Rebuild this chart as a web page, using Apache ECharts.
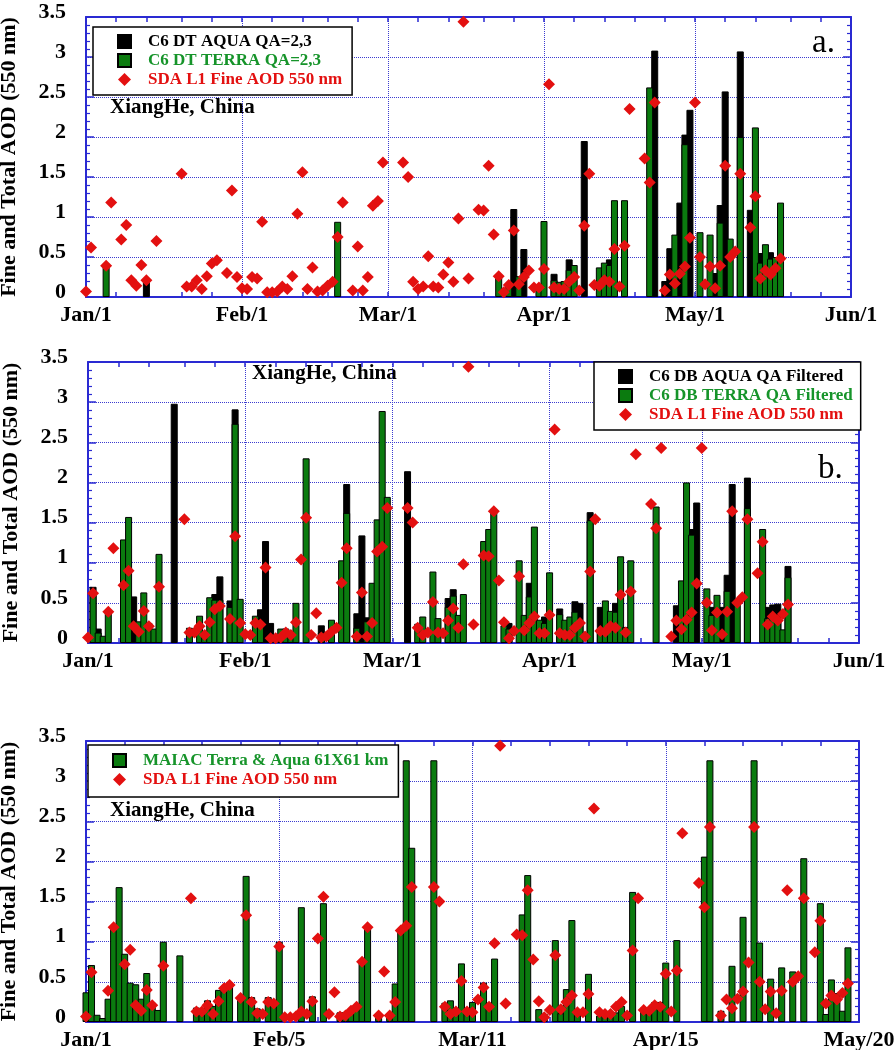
<!DOCTYPE html>
<html><head><meta charset="utf-8">
<script src="https://cdn.jsdelivr.net/npm/echarts@6/dist/echarts.min.js"></script>
<style>html,body{margin:0;padding:0;background:#fff}#chart{width:895px;height:1050px}</style>
</head><body><div id="chart"></div>
<script>
// ---------- tick labels ----------
const monthDaysAB = [0, 31, 60, 91, 121, 152];
const monthLabelsAB = ['Jan/1', 'Feb/1', 'Mar/1', 'Apr/1', 'May/1', 'Jun/1'];
const tickDaysC = [0, 35, 70, 105, 140];
const tickLabelsC = ['Jan/1', 'Feb/5', 'Mar/11', 'Apr/15', 'May/20'];

// ---------- data: [day of year (0 = Jan 1), AOD] ----------
const sdaFine = [[0,0.07],[1,0.62],[4,0.39],[5,1.18],[7,0.72],[8,0.90],[9,0.21],[10,0.14],[11,0.40],[12,0.21],[14,0.70],[19,1.54],[20,0.13],[21,0.13],[22,0.21],[23,0.10],[24,0.26],[25,0.42],[26,0.46],[28,0.30],[29,1.33],[30,0.25],[31,0.11],[32,0.10],[33,0.25],[34,0.23],[35,0.94],[36,0.06],[37,0.06],[38,0.07],[39,0.13],[40,0.10],[41,0.26],[42,1.04],[43,1.56],[44,0.10],[45,0.37],[46,0.07],[47,0.08],[48,0.14],[49,0.19],[50,0.75],[51,1.18],[53,0.08],[54,0.63],[55,0.08],[56,0.25],[57,1.14],[58,1.20],[59,1.68],[63,1.68],[64,1.50],[65,0.19],[66,0.10],[67,0.13],[68,0.51],[69,0.13],[70,0.12],[71,0.28],[72,0.43],[73,0.19],[74,0.98],[75,3.44],[76,0.23],[78,1.09],[79,1.08],[80,1.64],[81,0.78],[82,0.26],[83,0.06],[84,0.15],[85,0.83],[86,0.16],[87,0.25],[88,0.33],[89,0.12],[90,0.12],[91,0.35],[92,2.66],[93,0.12],[94,0.10],[95,0.10],[96,0.19],[97,0.25],[98,0.08],[99,0.89],[100,1.54],[101,0.15],[102,0.14],[103,0.21],[104,0.19],[105,0.60],[106,0.13],[107,0.64],[108,2.35],[111,1.73],[112,1.43],[113,2.43],[115,0.08],[116,0.28],[117,0.17],[118,0.29],[119,0.38],[120,0.74],[121,2.43],[122,0.50],[123,0.16],[124,0.38],[125,0.11],[126,0.39],[127,1.64],[128,0.50],[129,0.57],[130,1.54],[132,0.87],[133,1.26],[134,0.23],[135,0.33],[136,0.28],[137,0.36],[138,0.48]];

const dtAqua = [[12,0.20],[85,1.10],[87,0.60],[93,0.29],[96,0.47],[99,1.95],[104,0.47],[113,3.08],[115,0.20],[116,0.61],[118,1.18],[119,2.03],[120,2.34],[125,0.30],[126,1.15],[127,2.57],[130,3.07],[132,1.09],[134,0.55],[136,0.56]];
const dtTerra = [[4,0.42],[50,0.94],[82,0.26],[84,0.16],[86,0.26],[90,0.10],[91,0.95],[93,0.21],[94,0.19],[95,0.20],[96,0.34],[97,0.40],[102,0.37],[103,0.43],[104,0.40],[105,1.21],[107,1.21],[112,2.62],[117,0.78],[119,1.91],[122,0.81],[124,0.78],[126,0.93],[128,0.73],[130,2.00],[133,2.12],[134,0.43],[135,0.66],[136,0.48],[137,0.50],[138,1.18]];

const dbAqua = [[1,0.70],[2,0.18],[9,0.58],[17,2.98],[25,0.61],[26,0.83],[28,0.53],[29,2.91],[34,0.42],[35,1.27],[36,0.25],[46,0.22],[51,1.98],[53,0.37],[54,1.34],[55,0.32],[63,2.14],[71,0.56],[72,0.67],[83,0.25],[87,0.75],[90,0.33],[93,0.43],[96,0.52],[97,0.50],[99,1.63],[101,0.45],[104,0.50],[116,0.47],[119,1.42],[120,1.75],[123,0.45],[125,0.45],[126,0.85],[127,1.98],[130,2.06],[134,0.45],[135,0.48],[136,0.49],[138,0.96]];
const dbTerra = [[1,0.65],[2,0.13],[3,0.09],[4,0.39],[7,1.29],[8,1.57],[10,0.27],[11,0.63],[12,0.25],[13,0.18],[14,1.11],[20,0.19],[22,0.34],[23,0.14],[24,0.57],[25,0.54],[26,0.54],[28,0.45],[29,2.73],[30,0.55],[33,0.34],[34,0.27],[38,0.18],[39,0.18],[40,0.14],[41,0.50],[43,2.30],[46,0.13],[48,0.29],[50,1.03],[51,1.62],[53,0.19],[55,0.27],[56,0.75],[57,1.54],[58,2.89],[59,1.82],[65,0.24],[66,0.33],[68,0.89],[69,0.31],[71,0.45],[72,0.59],[73,0.35],[74,0.61],[78,1.27],[79,1.42],[80,1.67],[82,0.22],[83,0.18],[85,1.03],[86,0.35],[87,0.58],[88,1.45],[89,0.29],[90,0.25],[91,0.88],[93,0.36],[94,0.29],[95,0.33],[96,0.39],[97,0.27],[99,1.53],[101,0.16],[102,0.53],[103,0.40],[104,0.39],[105,1.08],[106,0.20],[107,1.03],[112,1.70],[117,0.78],[118,2.00],[119,1.35],[122,0.68],[123,0.35],[124,0.60],[126,0.65],[128,0.52],[130,1.68],[133,1.42],[134,0.31],[135,0.38],[136,0.27],[137,0.17],[138,0.82]];

const maiac = [[0,0.37],[1,0.71],[2,0.09],[3,0.05],[4,0.29],[5,1.17],[6,1.68],[7,0.85],[8,0.49],[9,0.47],[10,0.29],[11,0.61],[12,0.24],[13,0.15],[14,1.00],[17,0.83],[20,0.18],[21,0.17],[22,0.27],[23,0.20],[24,0.40],[25,0.45],[26,0.48],[28,0.29],[29,1.82],[30,0.31],[31,0.17],[33,0.31],[34,0.20],[35,1.00],[39,1.43],[41,0.32],[43,1.48],[46,0.12],[47,0.12],[48,0.15],[49,0.20],[50,0.74],[51,1.20],[53,0.10],[55,0.11],[56,0.48],[57,1.13],[58,3.26],[59,2.17],[63,3.26],[65,0.24],[66,0.27],[67,0.12],[68,0.73],[69,0.15],[70,0.25],[72,0.49],[73,0.24],[74,0.79],[79,1.34],[80,1.83],[82,0.16],[83,0.10],[85,1.02],[86,0.11],[87,0.41],[88,1.27],[89,0.13],[91,0.60],[93,0.08],[94,0.10],[95,0.10],[96,0.12],[97,0.20],[99,1.62],[101,0.18],[102,0.14],[103,0.25],[104,0.25],[105,0.74],[107,1.02],[112,2.06],[113,3.26],[115,0.14],[117,0.70],[119,1.31],[121,3.26],[122,0.99],[124,0.54],[126,0.68],[128,0.63],[130,2.04],[133,1.48],[134,0.10],[135,0.53],[136,0.36],[137,0.14],[138,0.93]];

// ---------- styling ----------
const FONT = '"Liberation Serif", "Times New Roman", serif';
const AXIS_BLUE = '#2a2ad2';
const GRID_BLUE = '#3c3cd0';
const BAR_GREEN = '#0b7b0f';
const TEXT_GREEN = '#16942a';
const RED = '#e31010';
const SDA = 'SDA L1 Fine AOD 550 nm';

function full(n, pairs) {
  const a = new Array(n + 1).fill('-');
  pairs.forEach(([d, v]) => { a[d] = v; });
  return a;
}
function minorTicksMonths(days) {
  const out = [];
  for (let i = 0; i < days.length - 1; i++) {
    const L = days[i + 1] - days[i];
    for (let k = 0; k < 5; k++) out.push(days[i] + Math.round(k * L / 5));
  }
  out.push(days[days.length - 1]);
  return out;
}
function xAxes(g, n, labelDays, labelTexts, minorDays) {
  const cats = Array.from({ length: n + 1 }, (_, i) => String(i));
  const labelSet = new Set(labelDays);
  const tickSet = new Set(minorDays);
  const labelMap = {};
  labelDays.forEach((d, i) => { labelMap[d] = labelTexts[i]; });
  const base = {
    type: 'category', gridIndex: g, data: cats, boundaryGap: false,
    axisLine: { show: true, onZero: false, lineStyle: { color: AXIS_BLUE, width: 2 } },
    axisTick: { show: true, inside: true, length: 5, interval: (i) => tickSet.has(i), lineStyle: { color: AXIS_BLUE, width: 1.5 } }
  };
  return [
    Object.assign({}, base, {
      position: 'bottom',
      axisLabel: { show: true, interval: (i) => labelSet.has(i), formatter: (v) => labelMap[+v] || '',
        color: '#000', fontFamily: FONT, fontWeight: 'bold', fontSize: 22, margin: 7 },
      splitLine: { show: true, interval: (i) => labelSet.has(i) && i > 0 && i < n,
        lineStyle: { color: GRID_BLUE, type: 'dotted', width: 1 } }
    }),
    Object.assign({}, base, { position: 'top', axisLabel: { show: false }, splitLine: { show: false } })
  ];
}
function yAxes(g) {
  const base = {
    type: 'value', gridIndex: g, min: 0, max: 3.5, interval: 0.5,
    axisLine: { show: true, lineStyle: { color: AXIS_BLUE, width: 2 } },
    axisTick: { show: true, inside: true, length: 8, lineStyle: { color: AXIS_BLUE, width: 1.5 } },
    minorTick: { show: true, splitNumber: 5, length: 4, lineStyle: { color: AXIS_BLUE, width: 1.2 } }
  };
  return [
    Object.assign({}, base, {
      position: 'left',
      axisLabel: { color: '#000', fontFamily: FONT, fontWeight: 'bold', fontSize: 22, margin: 20,
        verticalAlign: 'bottom', lineHeight: 10 },
      splitLine: { show: true, lineStyle: { color: GRID_BLUE, type: 'dotted', width: 1 } },
      name: 'Fine and Total AOD (550 nm)', nameLocation: 'middle', nameGap: 66, nameRotate: 90,
      nameTextStyle: { color: '#000', fontFamily: FONT, fontWeight: 'bold', fontSize: 22 }
    }),
    Object.assign({}, base, { position: 'right', axisLabel: { show: false }, splitLine: { show: false } })
  ];
}
function barSeries(name, p, n, pairs, color) {
  return { type: 'bar', name, xAxisIndex: 2 * p, yAxisIndex: 2 * p, data: full(n, pairs),
    barWidth: 7, barGap: '-100%', itemStyle: { color, borderColor: '#000', borderWidth: 1 } };
}
function sdaSeries(p, n) {
  return { type: 'scatter', name: SDA, xAxisIndex: 2 * p, yAxisIndex: 2 * p, data: full(n, sdaFine.filter(d => d[0] <= n)),
    symbol: 'diamond', symbolSize: 12, itemStyle: { color: RED, opacity: 1 }, z: 5 };
}
function legend(left, top, items, pad, gap) {
  return { left, top, orient: 'vertical', selectedMode: false, data: items,
    itemWidth: 13, itemHeight: 13, itemGap: gap,
    textStyle: { fontFamily: FONT, fontWeight: 'bold', fontSize: 17, padding: [0, 0, 0, 12] },
    borderColor: '#000', borderWidth: 1.5, padding: pad, backgroundColor: '#fff' };
}

const nAB = 152, nC = 140;
const xa = xAxes(0, nAB, monthDaysAB, monthLabelsAB, minorTicksMonths(monthDaysAB));
const xb = xAxes(1, nAB, monthDaysAB, monthLabelsAB, minorTicksMonths(monthDaysAB));
const minorC = []; for (let d = 0; d <= nC; d += 7) minorC.push(d);
const xc = xAxes(2, nC, tickDaysC, tickLabelsC, minorC);

const titleFont = 'bold 21px "Liberation Serif"';
const option = {
  animation: false,
  backgroundColor: '#fff',
  grid: [
    { left: 86, top: 17, width: 765, height: 280, outerBoundsMode: 'none', containLabel: false },
    { left: 88, top: 362, width: 771, height: 281, outerBoundsMode: 'none', containLabel: false },
    { left: 86, top: 741, width: 773, height: 281, outerBoundsMode: 'none', containLabel: false }
  ],
  xAxis: [...xa, ...xb, ...xc],
  yAxis: [...yAxes(0), ...yAxes(1), ...yAxes(2)],
  legend: [
    legend(93, 27, [
      { name: 'C6 DT AQUA QA=2,3', icon: 'rect', textStyle: { color: '#000' } },
      { name: 'C6 DT TERRA QA=2,3', icon: 'rect', textStyle: { color: TEXT_GREEN } },
      { name: SDA, icon: 'diamond', textStyle: { color: RED } }
    ], [6, 10, 7, 24], 2),
    legend(594, 362, [
      { name: 'C6 DB AQUA QA Filtered', icon: 'rect', textStyle: { color: '#000' } },
      { name: 'C6 DB TERRA QA Filtered', icon: 'rect', textStyle: { color: TEXT_GREEN } },
      { name: SDA, icon: 'diamond', textStyle: { color: RED } }
    ], [6, 8, 7, 24], 2),
    legend(88, 745, [
      { name: 'MAIAC Terra & Aqua 61X61 km', icon: 'rect', textStyle: { color: TEXT_GREEN } },
      { name: SDA, icon: 'diamond', textStyle: { color: RED } }
    ], [7, 10, 9, 24], 2)
  ],
  graphic: [
    { type: 'text', left: 110, top: 97, style: { text: 'XiangHe, China', font: titleFont, fill: '#000' } },
    { type: 'text', left: 252, top: 363, style: { text: 'XiangHe, China', font: titleFont, fill: '#000' } },
    { type: 'text', left: 110, top: 800, style: { text: 'XiangHe, China', font: titleFont, fill: '#000' } },
    { type: 'text', left: 812, top: 27, style: { text: 'a.', font: '33px "Liberation Serif"', fill: '#000' } },
    { type: 'text', left: 818, top: 453, style: { text: 'b.', font: '33px "Liberation Serif"', fill: '#000' } }
  ],
  series: [
    barSeries('C6 DT AQUA QA=2,3', 0, nAB, dtAqua, '#000'),
    barSeries('C6 DT TERRA QA=2,3', 0, nAB, dtTerra, BAR_GREEN),
    sdaSeries(0, nAB),
    barSeries('C6 DB AQUA QA Filtered', 1, nAB, dbAqua, '#000'),
    barSeries('C6 DB TERRA QA Filtered', 1, nAB, dbTerra, BAR_GREEN),
    sdaSeries(1, nAB),
    barSeries('MAIAC Terra & Aqua 61X61 km', 2, nC, maiac, BAR_GREEN),
    sdaSeries(2, nC)
  ]
};
const chart = echarts.init(document.getElementById('chart'), null, { renderer: 'canvas' });
chart.setOption(option);
</script></body></html>
